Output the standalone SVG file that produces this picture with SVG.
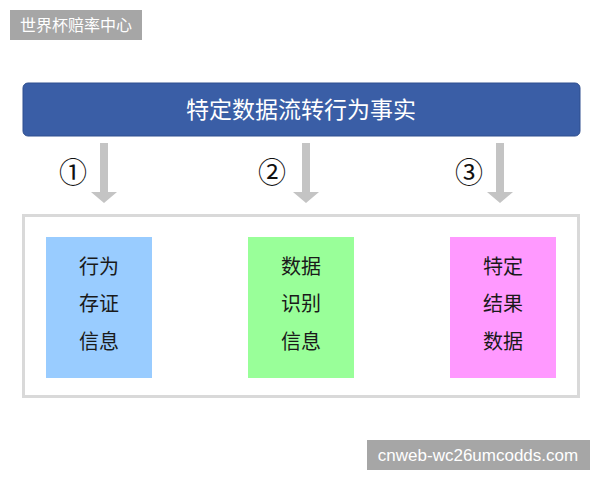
<svg xmlns="http://www.w3.org/2000/svg" width="600" height="480" viewBox="0 0 600 480">
<style>
.cjk{font-family:"Noto Sans CJK SC","Noto Sans",sans-serif}
.box{font-family:"Noto Sans CJK SC",sans-serif;font-size:20px;fill:#1a1a1a;text-anchor:middle}
.num{font-family:"Noto Sans CJK SC",sans-serif;font-size:28px;fill:#111;text-anchor:middle}
.arr{fill:#c4c4c4}
</style>
<rect width="600" height="480" fill="#ffffff"/>
<g id="tag-top">
<rect x="10" y="10" width="132" height="30" fill="#a6a6a6"/>
<text x="76" y="31" class="cjk" font-size="16" fill="#ffffff" text-anchor="middle">世界杯赔率中心</text>
</g>
<g id="banner">
<rect x="23" y="83" width="557" height="53" rx="5" fill="#3a5ea6" stroke="#2f4f8f" stroke-width="1"/>
<text x="301" y="118" class="cjk" font-size="23" fill="#ffffff" text-anchor="middle">特定数据流转行为事实</text>
</g>
<g id="connectors">
<path class="arr" d="M100,143 H108 V192 H117 L104,203 L91,192 H100 Z"/>
<path class="arr" d="M302,143 H310 V192 H319 L306,203 L293,192 H302 Z"/>
<path class="arr" d="M496,143 H504 V192 H513 L500,203 L487,192 H496 Z"/>
<text x="73" y="183" class="num">①</text>
<text x="272" y="183" class="num">②</text>
<text x="469" y="183" class="num">③</text>
</g>
<g id="container">
<rect x="23.5" y="215.5" width="555" height="181" fill="none" stroke="#d9d9d9" stroke-width="3"/>
</g>
<g id="node1">
<rect x="46" y="237" width="106" height="141" fill="#99ccff"/>
<text x="99" y="274" class="box">行为</text>
<text x="99" y="311" class="box">存证</text>
<text x="99" y="349" class="box">信息</text>
</g>
<g id="node2">
<rect x="248" y="237" width="106" height="141" fill="#99ff99"/>
<text x="301" y="274" class="box">数据</text>
<text x="301" y="311" class="box">识别</text>
<text x="301" y="349" class="box">信息</text>
</g>
<g id="node3">
<rect x="450" y="237" width="106" height="141" fill="#ff99ff"/>
<text x="503" y="274" class="box">特定</text>
<text x="503" y="311" class="box">结果</text>
<text x="503" y="349" class="box">数据</text>
</g>
<g id="tag-bottom">
<rect x="367" y="440" width="223" height="30" fill="#a6a6a6"/>
<text x="478" y="461" font-family="Liberation Sans,Arial,sans-serif" font-size="17" fill="#ffffff" text-anchor="middle">cnweb-wc26umcodds.com</text>
</g>
</svg>
